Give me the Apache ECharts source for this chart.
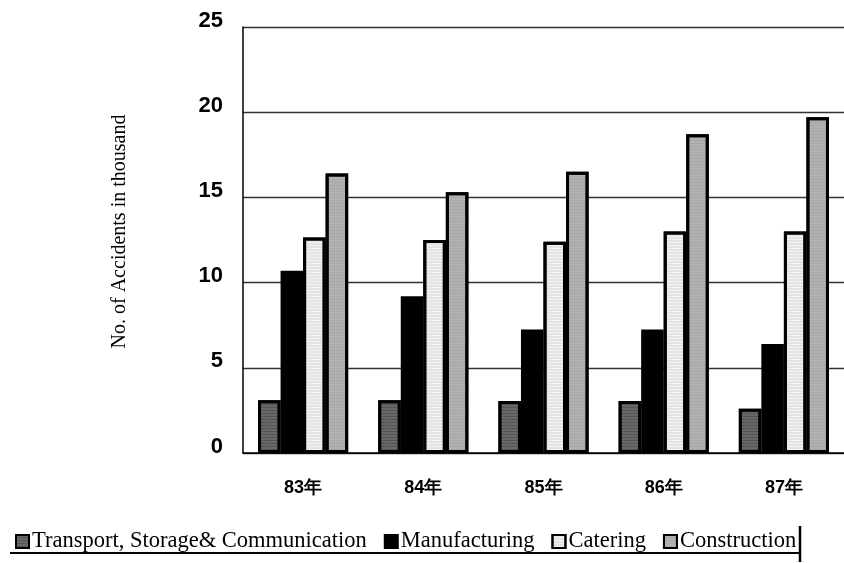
<!DOCTYPE html>
<html>
<head>
<meta charset="utf-8">
<script src="https://cdn.jsdelivr.net/npm/echarts@6/dist/echarts.min.js"></script>
</head>
<body style="margin:0;background:#fff;">
<div id="statistics" style="width:844px;height:563px;"></div>
<script type="text/javascript">
	var years = ['83年', '84年', '85年', '86年', '87年'];
	var transport = [3.1, 3.1, 3.05, 3.05, 2.6];
	var manufacturing = [10.7, 9.2, 7.25, 7.25, 6.4];
	var catering = [12.65, 12.5, 12.4, 13.0, 13.0];
	var construction = [16.4, 15.3, 16.5, 18.7, 19.7];
	var yTicks = [0, 5, 10, 15, 20, 25];

	var myChart = echarts.init(document.getElementById('statistics'));

	// 每个系列的填充和纹理
	function bar(name, data, color, decalColor) {
		var style = {
			color: color,
			borderColor: '#000',
			borderWidth: 3
		};
		if (decalColor) {
			style.decal = {
				symbol: 'rect',
				symbolSize: 0.5,
				dashArrayX: [1, 0],
				dashArrayY: [2, 1],
				color: decalColor
			};
		}
		return {
			name: name,
			type: 'bar',
			data: data,
			barGap: '0%',
			barCategoryGap: '25%',
			itemStyle: style
		};
	}

	var option = {
		animation: false,
		grid: { left: 243, top: 27, bottom: 110, right: -8 },
		legend: {
			left: 10,
			top: 525,
			icon: 'rect',
			itemWidth: 13,
			itemHeight: 13,
			itemGap: 17,
			textStyle: { fontFamily: 'Liberation Serif', fontSize: 22.5, color: '#000', padding: [0, 0, 0, -2] },
			data: ['Transport, Storage& Communication', 'Manufacturing', 'Catering', 'Construction']
		},
		xAxis: {
			type: 'category',
			data: years,
			axisLine: { lineStyle: { color: '#000', width: 1.5 } },
			axisTick: { show: false },
			axisLabel: { margin: 26, fontFamily: 'Liberation Sans', fontSize: 18, fontWeight: 'bold', color: '#000' }
		},
		yAxis: {
			type: 'value',
			min: yTicks[0],
			max: yTicks[yTicks.length - 1],
			interval: 5,
			name: 'No. of Accidents in thousand',
			nameLocation: 'middle',
			nameRotate: 90,
			nameGap: 113,
			nameTextStyle: { fontFamily: 'Liberation Serif', fontSize: 20, color: '#000', padding: [0, 0, 0, 17] },
			axisLine: { show: true, lineStyle: { color: '#000', width: 1.5 } },
			axisTick: { show: false },
			axisLabel: {
				margin: 20, fontFamily: 'Liberation Sans', fontSize: 22, fontWeight: 'bold', color: '#000',
				verticalAlign: 'bottom', lineHeight: 13
			},
			splitLine: { lineStyle: { color: '#333', width: 1.3 } }
		},
		graphic: [
			{ type: 'line', shape: { x1: 10, y1: 553, x2: 800, y2: 553 }, style: { stroke: '#000', lineWidth: 2 } },
			{ type: 'line', shape: { x1: 800, y1: 526, x2: 800, y2: 562 }, style: { stroke: '#000', lineWidth: 2.5 } }
		],
		series: [
			bar('Transport, Storage& Communication', transport, '#555', 'rgba(255,255,255,0.45)'),
			bar('Manufacturing', manufacturing, '#000', null),
			bar('Catering', catering, '#f2f2f2', 'rgba(0,0,0,0.25)'),
			bar('Construction', construction, '#a8a8a8', 'rgba(255,255,255,0.4)')
		]
	};

	myChart.setOption(option);
</script>
</body>
</html>
